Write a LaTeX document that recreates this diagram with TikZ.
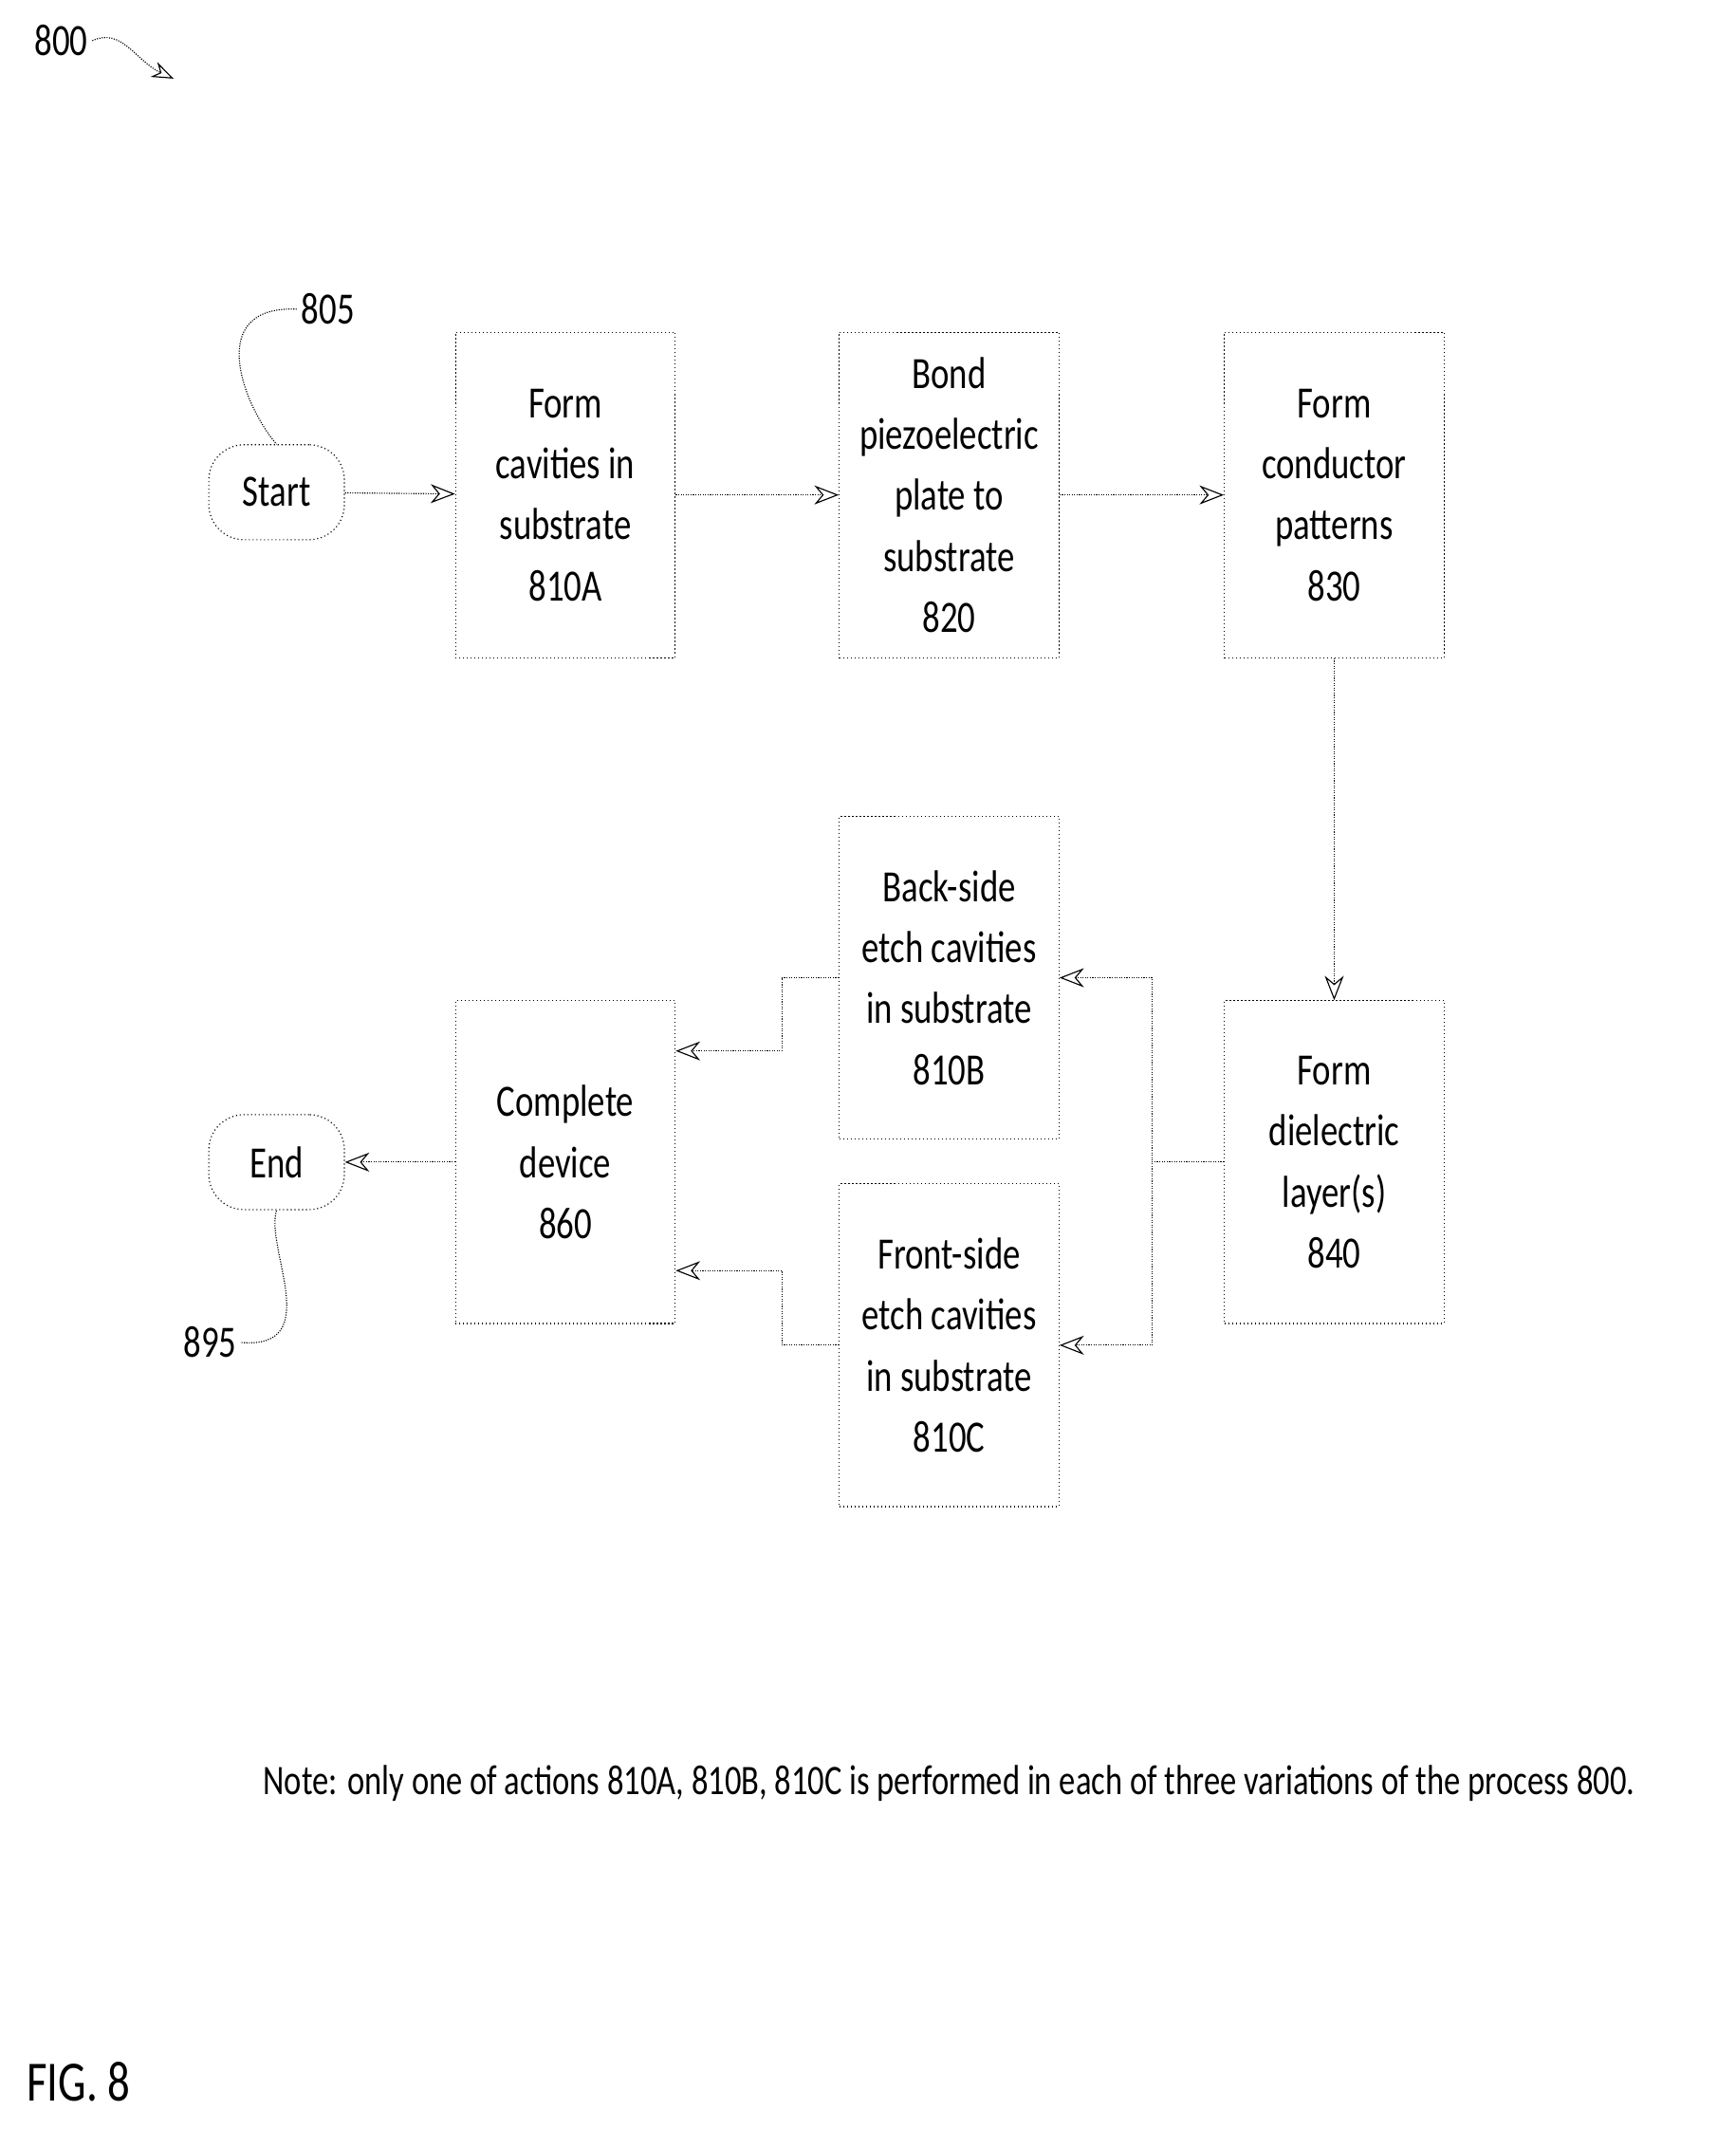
\documentclass[tikz,border=0pt]{standalone}
\usepackage{fontspec}
\setmainfont{Carlito}[FakeStretch=0.78]
\usetikzlibrary{positioning,calc,arrows.meta}

\tikzset{
	action/.style={draw, thick, dotted, minimum width=162pt, minimum height=240pt, align=center, font=\fontsize{33}{45}\selectfont},
	term/.style={draw, thick, dotted, rounded corners=26pt, minimum width=100pt, minimum height=70pt, font=\fontsize{33}{40}\selectfont},
	flow/.style={thick, densely dotted, -{Stealth[length=18pt, width=14pt, open]}},
	lead/.style={thick, densely dotted}
}

\begin{document}
\begin{tikzpicture}[x=1pt, y=-1pt]
		\useasboundingbox (0,0) rectangle (1280,1570);
		\node[term] (Start) at (204,363) {Start};
		\node[action] (FormCav) at (417,365) {Form\\cavities in\\substrate\\810A};
		\node[action] (Bond) at (700,365) {Bond\\piezoelectric\\plate to\\substrate\\820};
		\node[action] (Cond) at (984,365) {Form\\conductor\\patterns\\830};
		\node[action, minimum height=238pt] (Diel) at (984,857) {Form\\dielectric\\layer(s)\\840};
		\node[action, minimum height=238pt] (Back) at (700,721) {Back-side\\etch cavities\\in substrate\\810B};
		\node[action, minimum height=238pt] (Front) at (700,992) {Front-side\\etch cavities\\in substrate\\810C};
		\node[action, minimum height=238pt] (Compl) at (417,857) {Complete\\device\\860};
		\node[term] (End) at (204,857) {End};
		% reference numerals
		\node[font=\fontsize{33}{40}\selectfont] (n800) at (45,30) {800};
		\node[font=\fontsize{33}{40}\selectfont] (n805) at (242,228) {805};
		\node[font=\fontsize{33}{40}\selectfont] (n895) at (155,990) {895};
		\coordinate (tip800) at (128,58);
		\draw[lead, -{Stealth[length=16pt, width=12pt, open]}] (n800.east) .. controls (90,20) and (100,45) .. (tip800);
		\draw[lead] (n805.west) .. controls (150,225) and (180,300) .. (Start.north);
		\draw[lead] (n895.east) .. controls (240,995) and (195,920) .. (End.south);
		% connectors
		\draw[flow] (Start) -- (FormCav);
		\draw[flow] (FormCav) -- (Bond);
		\draw[flow] (Bond) -- (Cond);
		\draw[flow] (Cond) -- (Diel);
		\draw[flow] (Diel.west) -- ++(-53,0) |- (Back.east);
		\draw[flow] (Diel.west) -- ++(-53,0) |- (Front.east);
		\draw[flow] (Back.west) -- ++(-42,0) |- ($(Compl.east)+(0,-82)$);
		\draw[flow] (Front.west) -- ++(-42,0) |- ($(Compl.east)+(0,80)$);
		\draw[flow] (Compl) -- (End);
		% note and caption
		\node[font=\fontsize{31}{38}\selectfont] (note) at (700,1315) {Note: only one of actions 810A, 810B, 810C is performed in each of three variations of the process 800.};
		\node[font=\fontsize{42}{48}\selectfont] (fig) at (58,1535) {FIG. 8};
\end{tikzpicture}
\end{document}
